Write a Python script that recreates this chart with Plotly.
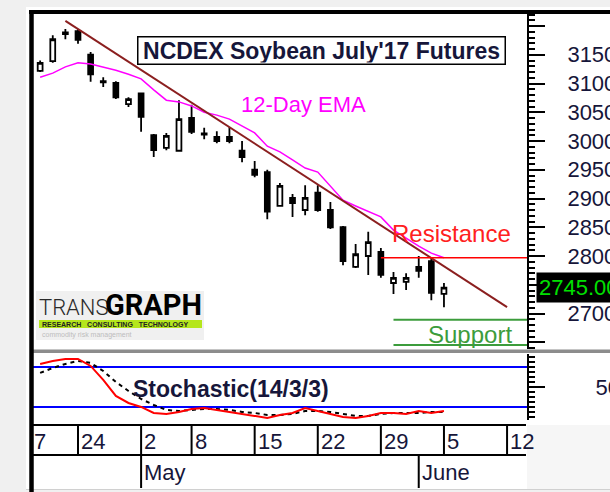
import plotly.graph_objects as go

FONT = 'Liberation Sans, Arial, sans-serif'
INK = '#16163a'

# trading sessions on the time axis (NCDEX closed on 1 May)
SESSIONS = ['2017-04-17', '2017-04-18', '2017-04-19', '2017-04-20', '2017-04-21',
            '2017-04-24', '2017-04-25', '2017-04-26', '2017-04-27', '2017-04-28',
            '2017-05-02', '2017-05-03', '2017-05-04', '2017-05-05',
            '2017-05-08', '2017-05-09', '2017-05-10', '2017-05-11', '2017-05-12',
            '2017-05-15', '2017-05-16', '2017-05-17', '2017-05-18', '2017-05-19',
            '2017-05-22', '2017-05-23', '2017-05-24', '2017-05-25', '2017-05-26',
            '2017-05-29', '2017-05-30', '2017-05-31', '2017-06-01', '2017-06-02',
            '2017-06-05', '2017-06-06', '2017-06-07', '2017-06-08', '2017-06-09',
            '2017-06-12', '2017-06-13']

DATE_TICKS = ['2017-04-17', '2017-04-24', '2017-05-02', '2017-05-08', '2017-05-15',
              '2017-05-22', '2017-05-29', '2017-06-05', '2017-06-12']
DATE_LABELS = ['17', '24', '2', '8', '15', '22', '29', '5', '12']
MONTH_TICKS = ['2017-05-02', '2017-06-01']
MONTH_LABELS = ['May', 'June']

CANDLE_DATES = SESSIONS[2:35]
OPEN = [3122, 3139, 3186, 3191, 3150, 3104, 3101, 3064, 3083, 3010, 2988, 2983,
        3040, 3013, 3007, 3007, 2983, 2950, 2946, 2887, 2901, 2880, 2910, 2880,
        2850, 2781, 2800, 2807, 2753, 2755, 2781, 2791, 2734]
HIGH = [3140, 3184, 3195, 3195, 3155, 3111, 3104, 3076, 3084, 3012, 3014, 3071,
        3063, 3023, 3017, 3024, 3000, 2965, 2950, 2927, 2908, 2923, 2923, 2894,
        2852, 2821, 2842, 2814, 2772, 2770, 2800, 2798, 2753]
LOW = [3120, 3136, 3177, 3169, 3103, 3094, 3073, 3059, 3016, 2972, 2984, 2982,
       3012, 3003, 2996, 2996, 2963, 2937, 2864, 2887, 2868, 2871, 2877, 2847,
       2784, 2779, 2767, 2762, 2734, 2741, 2762, 2723, 2711]
CLOSE = [3136, 3177, 3189, 3176, 3116, 3102, 3076, 3073, 3042, 2984, 3009, 3038,
         3016, 3011, 3000, 3000, 2972, 2941, 2877, 2922, 2892, 2901, 2880, 2850,
         2791, 2803, 2824, 2767, 2762, 2762, 2774, 2736, 2745]

EMA12 = [3111, 3118, 3129, 3136, 3134, 3129, 3123, 3116, 3108, 3089, 3071, 3068,
         3061, 3050, 3045, 3038, 3026, 3014, 2991, 2981, 2967, 2953, 2946, 2922,
         2897, 2887, 2877, 2868, 2845, 2831, 2817, 2805, 2797]

STOCH_K = [84.5, 89, 92, 92, 81.5, 60.5, 36.5, 26, 20, 11, 9.5, 12.5, 17, 18.5,
           15.5, 12.5, 9.5, 6.5, 3.5, 8, 11, 18.5, 14, 9.5, 5, 3.5, 6.5, 11, 11,
           9.5, 14, 11, 14]
STOCH_D = [71, 78.5, 84.5, 89, 86, 74, 57.5, 44, 32, 23, 15.5, 14, 15.5, 17, 17,
           15.5, 12.5, 11, 8, 8, 9.5, 14, 14, 12.5, 9.5, 6.5, 6.5, 9.5, 11, 11, 11,
           12.5, 12.5]
STOCH_LEVELS = [80, 20]

TREND_DATES = ['2017-04-21', '2017-06-12']
TREND_PRICES = [3209, 2711]
RESISTANCE = 2797
RESISTANCE_FROM = '2017-05-29'
SUPPORTS = [2689, 2645]
SUPPORT_FROM = '2017-05-30'
LAST_PRICE = 2745.00

# pixel frame of the plotting area
W, H = 610, 492
L, R, T, B = 33, 527, 14, 424
X_RANGE = [1.434, 40.58]


def px(x):
    return (x - L) / (R - L)


def py(y):
    return (B - y) / (B - T)


pos = {d: i for i, d in enumerate(SESSIONS)}
cx = [pos[d] for d in CANDLE_DATES]

fig = go.Figure()

fig.add_trace(go.Candlestick(
    x=cx, open=OPEN, high=HIGH, low=LOW, close=CLOSE,
    increasing=dict(line=dict(color='black', width=1.8), fillcolor='white'),
    decreasing=dict(line=dict(color='black', width=1.8), fillcolor='black'),
    whiskerwidth=0, hoverinfo='skip', xaxis='x', yaxis='y'))

fig.add_trace(go.Scatter(x=cx, y=EMA12, mode='lines', line=dict(color='#ff00ff', width=1.5),
                         xaxis='x', yaxis='y'))
fig.add_trace(go.Scatter(x=[pos[d] for d in TREND_DATES], y=TREND_PRICES, mode='lines',
                         line=dict(color='#8b1f1f', width=2), xaxis='x', yaxis='y'))
fig.add_trace(go.Scatter(x=[pos[RESISTANCE_FROM], X_RANGE[1]], y=[RESISTANCE, RESISTANCE],
                         mode='lines', line=dict(color='#ff0000', width=1.5), xaxis='x', yaxis='y'))
for s in SUPPORTS:
    fig.add_trace(go.Scatter(x=[pos[SUPPORT_FROM], X_RANGE[1]], y=[s, s], mode='lines',
                             line=dict(color='#3c9c3c', width=2), xaxis='x', yaxis='y'))

fig.add_trace(go.Scatter(x=cx, y=STOCH_D, mode='lines',
                         line=dict(color='black', width=2, dash='4px,4px'), xaxis='x2', yaxis='y2'))
fig.add_trace(go.Scatter(x=cx, y=STOCH_K, mode='lines', line=dict(color='#ff0000', width=2),
                         xaxis='x2', yaxis='y2'))

shapes = []


def rect(x0, y0, x1, y1, color, layer='below'):
    shapes.append(dict(type='rect', xref='paper', yref='paper', x0=px(x0), x1=px(x1),
                       y0=py(y1), y1=py(y0), fillcolor=color, line=dict(width=0), layer=layer))


def hline(x0, x1, y, color='black', width=2):
    shapes.append(dict(type='line', xref='paper', yref='paper', x0=px(x0), x1=px(x1),
                       y0=py(y), y1=py(y), line=dict(color=color, width=width)))


# canvas, frame and panel separators
rect(26, 7, 610, 489, 'white')
rect(527, 425, 610, 489, '#f6f6f6')
hline(26, 610, 489.5, '#d0d0d0', 1)
rect(33, 349.5, 610, 353, '#8c8c8c', 'above')
hline(29, 610, 12, 'black', 4)
shapes.append(dict(type='line', xref='paper', yref='paper', x0=px(31.5), x1=px(31.5),
                   y0=py(492), y1=py(10), line=dict(color='black', width=4.5)))

for lv in STOCH_LEVELS:
    shapes.append(dict(type='line', xref='paper', yref='y2', x0=0, x1=1, y0=lv, y1=lv,
                       line=dict(color='#0000ff', width=2), layer='below'))

# date axis rows
hline(33, 526, 425)
hline(33, 526, 455)
for d in DATE_TICKS:
    if X_RANGE[0] <= pos[d] <= X_RANGE[1]:
        shapes.append(dict(type='line', xref='x', yref='paper', x0=pos[d], x1=pos[d],
                           y0=py(455), y1=py(425), line=dict(color='black', width=2)))
for d in MONTH_TICKS:
    shapes.append(dict(type='line', xref='x', yref='paper', x0=pos[d], x1=pos[d],
                       y0=py(488), y1=py(455), line=dict(color='black', width=2)))

# logo
rect(36, 291, 204, 340, '#f0f0f0', 'above')
rect(39, 320, 202, 328, '#b5e61d', 'above')

annotations = []
for d, lab in zip(DATE_TICKS, DATE_LABELS):
    if pos[d] >= X_RANGE[0]:
        annotations.append(dict(x=pos[d], xref='x', xanchor='left', xshift=1, text=lab))
    else:
        annotations.append(dict(x=X_RANGE[0], xref='x', xanchor='left', xshift=-1, text=lab[-1]))
for a in annotations:
    a.update(y=py(441), yref='paper', yanchor='middle', showarrow=False,
             font=dict(size=22, color=INK))
for d, lab in zip(MONTH_TICKS, MONTH_LABELS):
    annotations.append(dict(x=pos[d], xref='x', xanchor='left', xshift=1, text=lab,
                            y=py(472), yref='paper', yanchor='middle', showarrow=False,
                            font=dict(size=22, color=INK)))


def label(text, x, y, size, color, **kw):
    d = dict(text=text, x=px(x), y=py(y), xref='paper', yref='paper', xanchor='left',
             yanchor='middle', showarrow=False, font=dict(size=size, color=color))
    d.update(kw)
    annotations.append(d)


label("<b>NCDEX Soybean July'17 Futures</b>", 137, 51, 23, INK, bordercolor='black',
      borderwidth=1.5, borderpad=1, bgcolor='white', width=364, height=24)
label('12-Day EMA', 239, 105, 22, '#ff00ff')
label('Resistance', 390, 233, 24, '#ff2020')
label('Support', 426, 334, 24, '#3c9c3c')
label('<b>Stochastic(14/3/3)</b>', 131, 389, 23, INK)
annotations.append(dict(text='%.2f' % LAST_PRICE, x=px(536), xref='paper', xanchor='left',
                        y=LAST_PRICE, yref='y', yanchor='middle', showarrow=False,
                        bgcolor='black', borderpad=2, font=dict(size=22, color='#00e000')))
label('TRANS', 37, 307, 22, '#2a2a2a', font=dict(size=22, color='#2a2a2a', family='Roboto', weight=300))
label('<b>GRAPH</b>', 103, 305, 29, 'black', font=dict(size=29, color='black', family='Roboto'))
label('<b>RESEARCH   CONSULTING   TECHNOLOGY</b>', 40, 324, 7, '#222222')
label('commodity risk management', 40, 334.5, 7, '#bdbdbd')

axis_common = dict(side='right', showline=True, linecolor='black', linewidth=2,
                   ticks='outside', ticklen=16, tickwidth=2, tickcolor='black',
                   showgrid=False, zeroline=False, tickfont=dict(size=22, color=INK))

fig.update_layout(
    width=W, height=H,
    margin=dict(l=L, r=W - R, t=T, b=H - B, autoexpand=False),
    paper_bgcolor='#f0f0f0', plot_bgcolor='white',
    showlegend=False, boxgap=0.45,
    font=dict(family=FONT, color=INK),
    xaxis=dict(domain=[0, 1], range=X_RANGE, visible=False, anchor='y',
               rangeslider=dict(visible=False)),
    xaxis2=dict(domain=[0, 1], range=X_RANGE, visible=False, anchor='y2', matches='x'),
    yaxis=dict(domain=[py(349), 1], range=[2638.26, 3220.87], anchor='x',
               tickmode='linear', tick0=2650, dtick=50, tickformat='d',
               labelalias={'3200': ' ', '2650': ' ', '2750': ' '},
               ticklabelstandoff=18,
               minor=dict(dtick=10, tick0=2650, ticks='outside', ticklen=6,
                          tickwidth=1.5, tickcolor='black'),
               **axis_common),
    yaxis2=dict(domain=[py(420.3), py(353.6)], range=[0, 100], anchor='x2',
                tickmode='linear', tick0=50, dtick=100, ticklabelstandoff=46,
                minor=dict(dtick=7.5, tick0=50, ticks='outside', ticklen=6,
                           tickwidth=1.5, tickcolor='black'),
                **axis_common),
    shapes=shapes,
    annotations=annotations,
)

# the page body has a default 8px margin; drop it so the figure sits at the window origin
fig.write_html('out.html', config={'displayModeBar': False},
               post_script="document.body.style.margin='0px';")
